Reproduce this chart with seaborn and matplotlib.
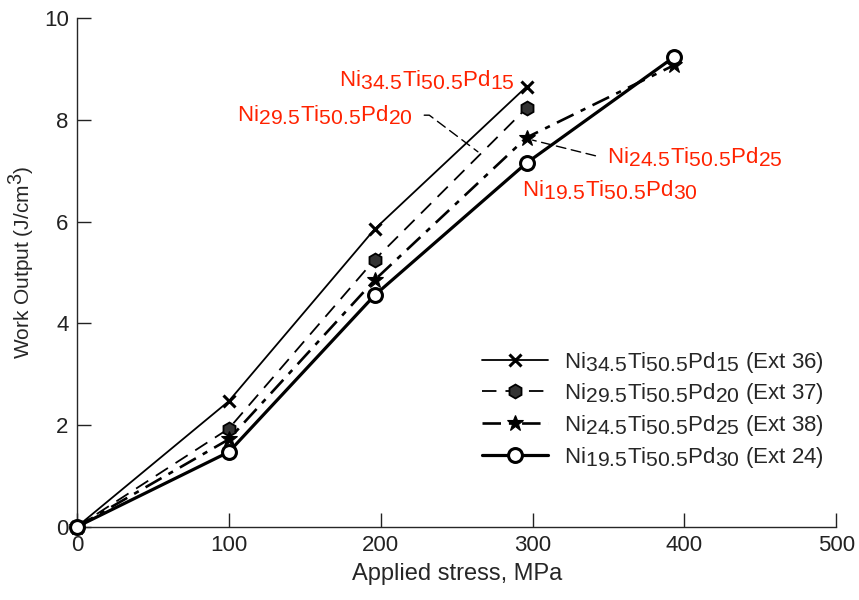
import matplotlib
matplotlib.use("Agg")
import matplotlib.pyplot as plt
import matplotlib._mathtext as mathtext_internal
import seaborn as sns

# applied stress (MPa) and work output (J/cm3) per alloy
stress_4 = [0, 100, 196, 296]
stress_5 = [0, 100, 196, 296, 393]
ext36 = [0, 2.47, 5.85, 8.65]
ext37 = [0, 1.93, 5.25, 8.23]
ext38 = [0, 1.72, 4.85, 7.65, 9.07]
ext24 = [0, 1.47, 4.55, 7.15, 9.23]

# subscripts in the original are nearly full size
mathtext_internal.SHRINK_FACTOR = 0.95


def alloy(ni, pd):
    return r"Ni$_\mathregular{%s}$Ti$_\mathregular{50.5}$Pd$_\mathregular{%s}$" % (ni, pd)


sns.set_style("ticks")
plt.rcParams["font.family"] = ["Liberation Sans", "DejaVu Sans"]
plt.rcParams["mathtext.fontset"] = "custom"
plt.rcParams["mathtext.rm"] = "Liberation Sans"
plt.rcParams["mathtext.it"] = "Liberation Sans:italic"
plt.rcParams["mathtext.bf"] = "Liberation Sans:bold"

fig = plt.figure(figsize=(8.59, 6.0), dpi=100)
ax = fig.add_axes([0.0896, 0.122, 0.884, 0.848])

common = dict(ax=ax, color="black", clip_on=False, zorder=3)
sns.lineplot(x=stress_4, y=ext36, lw=1.3, marker="x", markersize=9, mew=2.2,
             mec="black", label=alloy("34.5", "15") + " (Ext 36)", **common)
sns.lineplot(x=stress_4, y=ext37, lw=1.3, linestyle=(0, (8, 5)),
             marker="h", markersize=10, mfc="#333333", mec="black", mew=1.3,
             label=alloy("29.5", "20") + " (Ext 37)", **common)
sns.lineplot(x=stress_5, y=ext38, lw=1.9, linestyle=(0, (7, 3, 2, 3)),
             marker="*", markersize=12, mfc="black", mec="black", mew=0.8,
             label=alloy("24.5", "25") + " (Ext 38)", **common)
sns.lineplot(x=stress_5, y=ext24, lw=2.3, marker="o",
             markersize=10, mfc="white", mec="black", mew=2.2,
             label=alloy("19.5", "30") + " (Ext 24)", **common)

ax.set_xlim(0, 500)
ax.set_ylim(0, 10)
ax.set_xticks([0, 100, 200, 300, 400, 500])
ax.set_yticks([0, 2, 4, 6, 8, 10])
ax.tick_params(direction="in", length=10, width=1, labelsize=16, pad=6, colors="#222222")
for s in ["left", "bottom"]:
    ax.spines[s].set_linewidth(1)
sns.despine(ax=ax)
ax.set_xlabel("Applied stress, MPa", fontsize=17, labelpad=5)
ax.set_ylabel(r"Work Output (J/cm$^\mathregular{3}$)", fontsize=15)
ax.yaxis.set_label_coords(-0.052, 0.52)

red = "#ff2200"
lead = dict(arrowstyle="-", color="black", lw=1, linestyle=(0, (7, 4)), shrinkA=6, shrinkB=0)
ax.text(288, 8.78, alloy("34.5", "15"), color=red, fontsize=16, ha="right", va="center")
ax.text(293, 6.62, alloy("19.5", "30"), color=red, fontsize=16, ha="left", va="center")
ax.annotate(alloy("29.5", "20"), xy=(264, 7.37), xytext=(221, 8.09), color=red, fontsize=16,
            ha="right", va="center",
            arrowprops=dict(connectionstyle="angle,angleA=0,angleB=-37,rad=0", **lead))
ax.annotate(alloy("24.5", "25"), xy=(stress_5[3] + 4, ext38[3] - 0.05), xytext=(349, 7.27),
            color=red, fontsize=16, ha="left", va="center",
            arrowprops=dict(connectionstyle="angle,angleA=0,angleB=-14,rad=0", **lead))

ax.legend(loc="lower right", bbox_to_anchor=(0.995, 0.095), frameon=False, fontsize=16,
          handlelength=3.0, handletextpad=0.7, labelspacing=0.3, borderaxespad=0)

fig.savefig("out.png", dpi=100)
